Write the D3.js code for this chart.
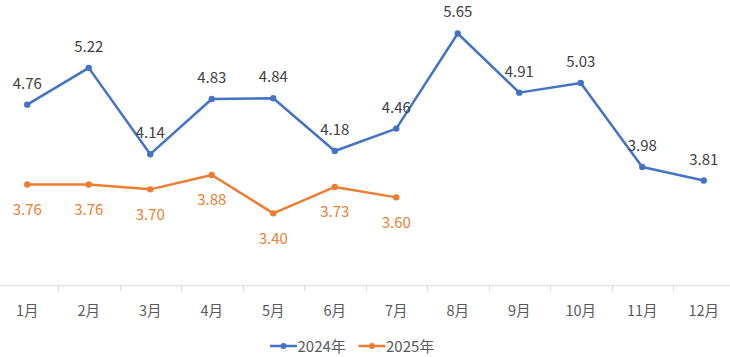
<!DOCTYPE html>
<html><head><meta charset="utf-8">
<script src="https://cdn.jsdelivr.net/npm/d3@7"></script>
<style>body{margin:0;background:#fff;}svg{display:block;font-family:"Noto Sans CJK SC","Noto Sans",sans-serif;}</style>
</head><body><svg id="c" width="730" height="357"></svg>
<script>
const months = ["1月","2月","3月","4月","5月","6月","7月","8月","9月","10月","11月","12月"];
const seriesNames = ["2024年","2025年"];
const values2024 = [4.76,5.22,4.14,4.83,4.84,4.18,4.46,5.65,4.91,5.03,3.98,3.81];
const values2025 = [3.76,3.76,3.70,3.88,3.40,3.73,3.60];
const colors = ["#4472C4","#ED7D31"];

const svg = d3.select("#c");
const x = d3.scaleBand().domain(months).range([-3.5,734.5]);
const y = d3.scaleLinear().domain([2.5,6]).range([285.3,5.5]);

// axis
const ax = svg.append("g").attr("transform","translate(0,285.3)")
  .call(d3.axisBottom(x).tickSize(0).tickPadding(20));
ax.select(".domain").attr("stroke","#D9D9D9").attr("stroke-width",1);
ax.selectAll("text").attr("fill","#595959").attr("font-size",14.5)
  .attr("font-family",'"Noto Sans CJK SC","Noto Sans",sans-serif');
// tick marks between categories
svg.append("g").selectAll("line").data(months.slice(1)).join("line")
  .attr("x1",d=>Math.round(x(d))+0.5).attr("x2",d=>Math.round(x(d))+0.5)
  .attr("y1",285.3).attr("y2",291).attr("stroke","#D9D9D9").attr("stroke-width",1);

const cx = d=>x(d)+x.bandwidth()/2;
const series = [
  {name:seriesNames[0], vals:values2024, color:colors[0], above:true},
  {name:seriesNames[1], vals:values2025, color:colors[1], above:false}
];
const line = d3.line().x(d=>cx(d.m)).y(d=>y(d.v));
series.forEach(s=>{
  const pts = s.vals.map((v,i)=>({m:months[i],v}));
  svg.append("path").datum(pts).attr("d",line).attr("fill","none")
    .attr("stroke",s.color).attr("stroke-width",2.5).attr("stroke-linejoin","round");
  svg.append("g").selectAll("circle").data(pts).join("circle")
    .attr("cx",d=>cx(d.m)).attr("cy",d=>y(d.v)).attr("r",3.2).attr("fill",s.color);
  svg.append("g").selectAll("text").data(pts).join("text")
    .attr("x",d=>cx(d.m)).attr("y",d=>s.above? y(d.v)-16 : y(d.v)+30.5)
    .attr("text-anchor","middle").attr("font-size",15)
    .attr("fill",s.above?"#404040":s.color)
    .text(d=>d.v.toFixed(2));
});

// legend
const lg = svg.append("g");
const legendItems = [{name:seriesNames[0],color:colors[0],x0:270},{name:seriesNames[1],color:colors[1],x0:358.5}];
legendItems.forEach(l=>{
  lg.append("line").attr("x1",l.x0).attr("x2",l.x0+27).attr("y1",346).attr("y2",346)
    .attr("stroke",l.color).attr("stroke-width",2.5);
  lg.append("circle").attr("cx",l.x0+13.5).attr("cy",346).attr("r",3).attr("fill",l.color);
  lg.append("text").attr("x",l.x0+27.5).attr("y",351.5).attr("font-size",15)
    .attr("fill","#595959").text(l.name);
});
</script></body></html>
